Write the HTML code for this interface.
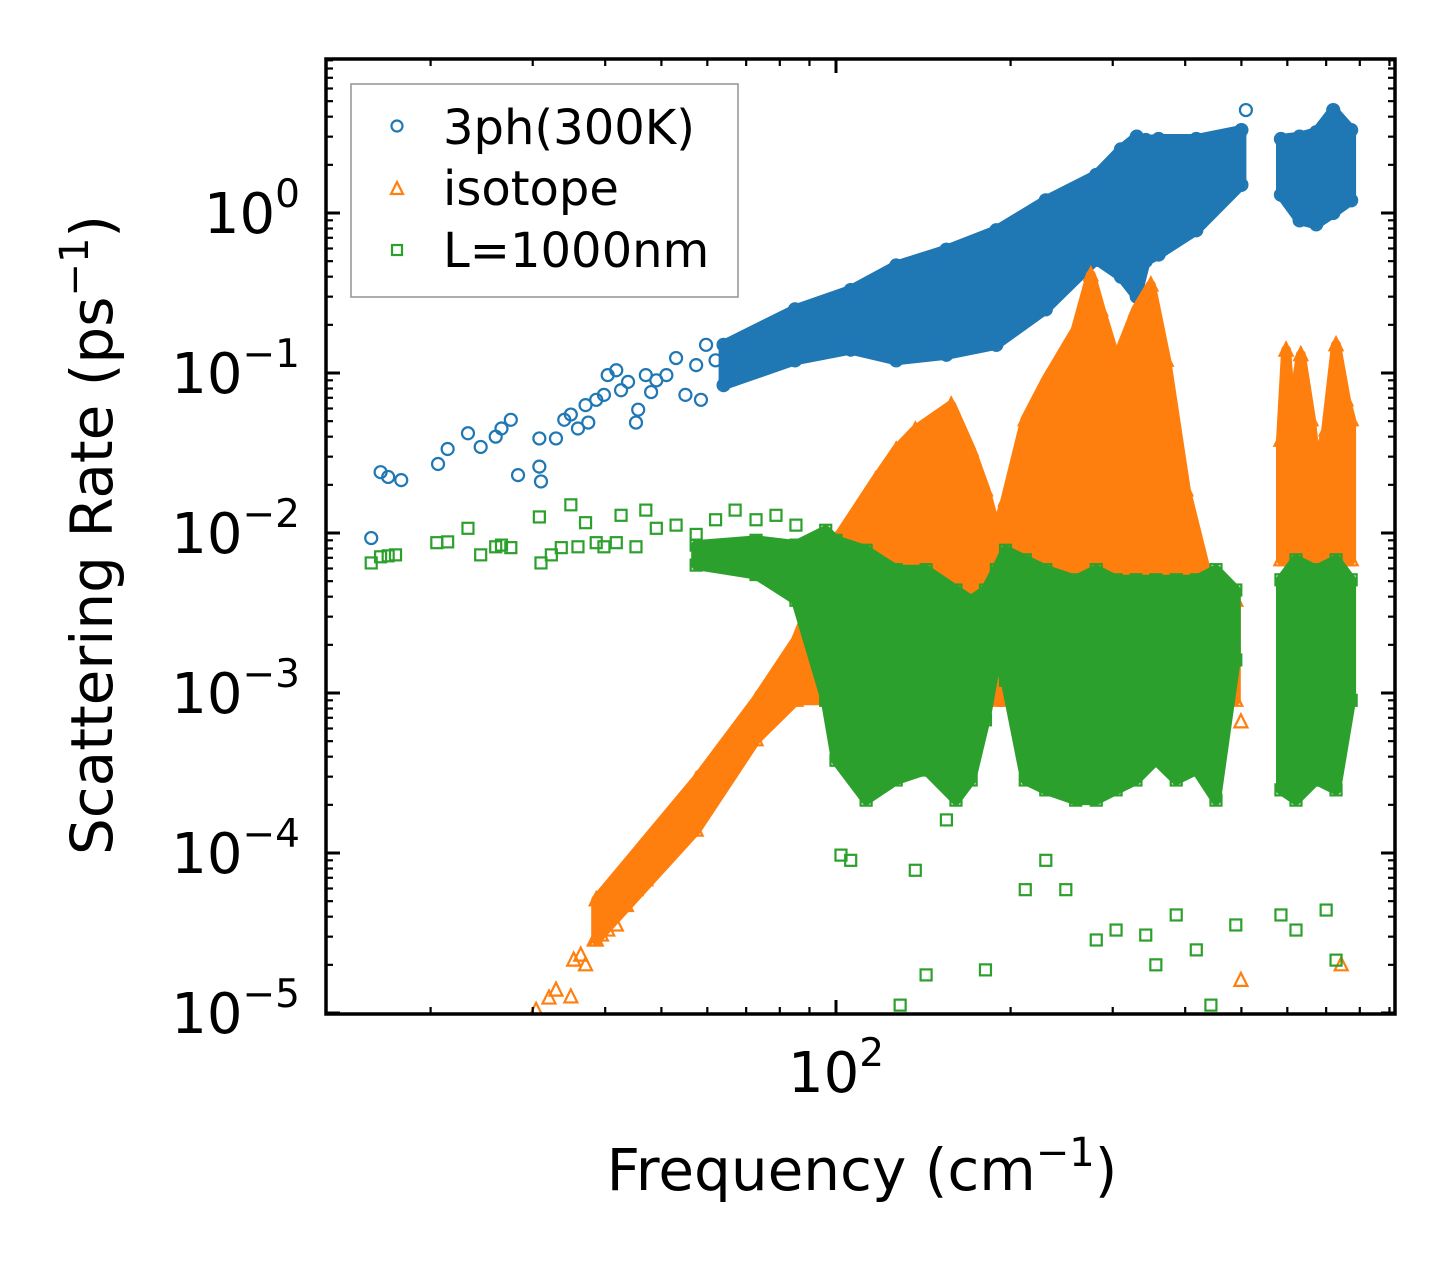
<!DOCTYPE html>
<html><head><meta charset="utf-8"><style>
html,body{margin:0;padding:0;background:#fff;}
svg{display:block;font-family:"DejaVu Sans","Liberation Sans",sans-serif;}
</style></head><body>
<svg id="chart" width="1455" height="1265" viewBox="0 0 1455 1265" xmlns="http://www.w3.org/2000/svg">
<rect width="1455" height="1265" fill="#fff"/>
<g id="marks"></g>
<g id="axes"></g>
<g id="legend">
  <rect x="351" y="84" width="387" height="213" fill="#fff" fill-opacity="0.8" stroke="#999" stroke-width="1.6"/>
  <circle cx="397" cy="126" r="5.5" fill="none" stroke="#1f77b4" stroke-width="2.2"/>
  <text x="443" y="144" font-size="48">3ph(300K)</text>
  <path d="M391,194 L403,194 L397,182 Z" fill="none" stroke="#ff7f0e" stroke-width="2.2"/>
  <text x="443" y="205" font-size="48">isotope</text>
  <rect x="392" y="245" width="10" height="10" fill="none" stroke="#2ca02c" stroke-width="2.2"/>
  <text x="443" y="267" font-size="48">L=1000nm</text>
</g>
<text x="862" y="1190" font-size="58" text-anchor="middle">Frequency (cm<tspan font-size="40" dy="-24">−1</tspan><tspan dy="24">)</tspan></text>
<text transform="translate(112,535) rotate(-90)" font-size="58" text-anchor="middle">Scattering Rate (ps<tspan font-size="40" dy="-24">−1</tspan><tspan dy="24">)</tspan></text>
</svg>
<script>
// ---- data ----
const blueF = [15.8,16.4,16.9,17.8,20.6,21.4,23.2,24.4,25.9,26.5,27.5,28.3,30.8,30.8,31,32.9,34,34.9,35.9,37,37.4,38.6,39.8,40.4,41.8,42.6,43.8,45.2,45.6,47,48,49,51,53,55,57.4,58.5,59.7,62,66,71.3,509];
const blueR = [0.0093,0.024,0.0224,0.0214,0.027,0.0335,0.042,0.0345,0.040,0.045,0.051,0.023,0.039,0.026,0.021,0.039,0.051,0.055,0.045,0.063,0.049,0.068,0.073,0.097,0.104,0.078,0.088,0.049,0.059,0.097,0.076,0.090,0.097,0.124,0.073,0.112,0.068,0.15,0.12,0.14,0.173,4.4];
const blueBandF = [64,85,106,127,155,189,230,281,310,330,342,360,418,500];
const blueBandHi = [0.15,0.25,0.33,0.47,0.59,0.78,1.2,1.73,2.5,3.0,2.86,2.9,2.9,3.3];
const blueBandLo = [0.084,0.12,0.14,0.12,0.13,0.15,0.25,0.51,0.4,0.3,0.5,0.55,0.78,1.5];
const blueBand2F = [585,630,673,720,773];
const blueBand2Hi = [2.9,3.0,3.2,4.4,3.3];
const blueBand2Lo = [1.3,0.9,0.85,1.0,1.2];

const orangeF = [30.4,32,32.9,34.9,35.3,36.3,37,38.3,39.4,40.4,41.8,43.5,45.2,47,49,52,55,499,499,743];
const orangeR = [1.04e-5,1.24e-5,1.39e-5,1.26e-5,2.14e-5,2.3e-5,2.0e-5,2.86e-5,3.07e-5,3.3e-5,3.55e-5,4.7e-5,5.9e-5,6.8e-5,8.4e-5,1.12e-4,1.39e-4,1.6e-5,6.6e-4,2.0e-5];
const orangeBandF = [38.6,57.4,72.8,85.3,100,117,127,137,158,171,181,189,196,212,230,259,275,286,304,329,349,371,401,434,489];
const orangeBandHi = [5.1e-5,2.86e-4,9.0e-4,2.14e-3,9.0e-3,0.0214,0.033,0.044,0.063,0.033,0.0186,0.0104,0.0161,0.051,0.090,0.186,0.41,0.248,0.12,0.248,0.355,0.12,0.0186,5.9e-3,3.8e-3];
const orangeBandLo = [2.86e-5,1.39e-4,5.1e-4,9.0e-4,9.0e-4,9.0e-4,9.0e-4,9.0e-4,9.0e-4,9.0e-4,9.0e-4,9.0e-4,9.0e-4,9.0e-4,9.0e-4,9.0e-4,9.0e-4,9.0e-4,9.0e-4,9.0e-4,9.0e-4,9.0e-4,9.0e-4,9.0e-4,9.0e-4];
const orangeBand2F = [585,597,610,633,659,673,700,728,757,773];
const orangeBand2Hi = [0.038,0.139,0.051,0.13,0.051,0.0248,0.044,0.15,0.068,0.051];
const orangeBand2Lo = [6.8e-3,6.8e-3,6.8e-3,6.8e-3,6.8e-3,6.8e-3,6.8e-3,6.8e-3,6.8e-3,6.8e-3];

const greenF = [15.8,16.4,16.9,17.4,20.5,21.4,23.2,24.4,25.9,26.5,27.5,30.8,31,32.3,33.6,34.9,35.9,37,38.6,39.8,41.8,42.6,45.2,47,49,53,57.4,62,67,72.8,78.8,85.3,
  102,106,129,137,143,155,181,212,230,249,281,304,342,356,386,418,443,489,585,621,700,728];
const greenR = [6.5e-3,7.1e-3,7.2e-3,7.3e-3,8.7e-3,8.8e-3,0.0107,7.3e-3,8.2e-3,8.4e-3,8.1e-3,0.0126,6.5e-3,7.3e-3,8.1e-3,0.015,8.2e-3,0.0116,8.7e-3,8.2e-3,8.7e-3,0.0129,8.2e-3,0.0139,0.0107,0.0112,0.0098,0.0121,0.0139,0.0121,0.0129,0.0112,
  9.7e-5,9.0e-5,1.12e-5,7.8e-5,1.73e-5,1.61e-4,1.86e-5,5.9e-5,9.0e-5,5.9e-5,2.86e-5,3.3e-5,3.07e-5,2.0e-5,4.1e-5,2.48e-5,1.12e-5,3.55e-5,4.1e-5,3.3e-5,4.4e-5,2.14e-5];
const greenBandF = [57.4,72.8,85.3,96,100,112.7,127,143,161,171,181,189,196,212,230,259,281,304,329,356,386,418,452,489];
const greenBandHi = [8.4e-3,9.0e-3,8.4e-3,0.0104,9.0e-3,7.8e-3,5.9e-3,5.9e-3,4.4e-3,3.8e-3,4.4e-3,5.9e-3,7.8e-3,6.8e-3,5.9e-3,5.1e-3,5.9e-3,5.1e-3,5.1e-3,5.1e-3,5.1e-3,5.1e-3,5.9e-3,4.4e-3];
const greenBandLo = [6.3e-3,5.5e-3,3.8e-3,9.0e-4,3.8e-4,2.14e-4,2.86e-4,3.3e-4,2.14e-4,2.86e-4,6.8e-4,1.61e-3,1.2e-3,2.86e-4,2.48e-4,2.14e-4,2.14e-4,2.48e-4,2.86e-4,3.8e-4,2.86e-4,3.3e-4,2.14e-4,1.61e-3];
const greenBand2F = [585,621,673,728,773];
const greenBand2Hi = [5.1e-3,6.8e-3,5.9e-3,6.8e-3,5.1e-3];
const greenBand2Lo = [2.48e-4,2.14e-4,2.86e-4,2.48e-4,9.0e-4];

const yTickExp = ['0','−1','−2','−3','−4','−5'];
const yTickVals = [1,0.1,0.01,1e-3,1e-4,1e-5];
const xTickExp = ['2'];
const xTickVals = [100];

// ---- axes ----
const L=326,R=1395,T=59,B=1014;
const X0=836, XDEC=580, Y0=213, YDEC=160;
function xs(f){return X0+(Math.log10(f)-2)*XDEC;}
function ys(r){return Y0-Math.log10(r)*YDEC;}
const NS='http://www.w3.org/2000/svg';
function mk(tag,attrs,parent){const e=document.createElementNS(NS,tag);for(const k in attrs)e.setAttribute(k,attrs[k]);parent.appendChild(e);return e;}
const marks=document.getElementById('marks');
const axes=document.getElementById('axes');

function band(F,Hi,Lo,color,name){
  let d='M'+F.map((f,i)=>xs(f).toFixed(1)+','+ys(Hi[i]).toFixed(1)).join(' L');
  for(let i=F.length-1;i>=0;i--) d+=' L'+xs(F[i]).toFixed(1)+','+ys(Lo[i]).toFixed(1);
  d+=' Z';
  const p=mk('path',{d:d,fill:color,stroke:color,'stroke-width':10,'stroke-linejoin':'round'},marks);
  
  
}
function marker(type,f,r,color,name){
  const x=xs(f),y=ys(r);let e;
  if(type==='circle') e=mk('circle',{cx:x,cy:y,r:6,fill:'none',stroke:color,'stroke-width':2.2},marks);
  else if(type==='tri') e=mk('path',{d:`M${x-6.5},${y+5.5} L${x+6.5},${y+5.5} L${x},${y-7.5} Z`,fill:'none',stroke:color,'stroke-width':2.2},marks);
  else e=mk('rect',{x:x-5.5,y:y-5.5,width:11,height:11,fill:'none',stroke:color,'stroke-width':2.2},marks);
  
  
}
function series(type,F,Rr,bands,color,prefix){
  bands.forEach((b,bi)=>{
    band(b[0],b[1],b[2],color,prefix+'-band-'+bi);
    b[0].forEach((f,i)=>{marker(type,f,b[1][i],color,prefix+'-point');marker(type,f,b[2][i],color,prefix+'-point');});
  });
  F.forEach((f,i)=>marker(type,f,Rr[i],color,prefix+'-point'));
}
const cp=mk('clipPath',{id:'clip'},document.getElementById('chart'));
mk('rect',{x:L,y:T,width:R-L,height:B-T},cp);
marks.setAttribute('clip-path','url(#clip)');
series('circle',blueF,blueR,[[blueBandF,blueBandHi,blueBandLo],[blueBand2F,blueBand2Hi,blueBand2Lo]],'#1f77b4','3ph');
series('tri',orangeF,orangeR,[[orangeBandF,orangeBandHi,orangeBandLo],[orangeBand2F,orangeBand2Hi,orangeBand2Lo]],'#ff7f0e','isotope');
series('square',greenF,greenR,[[greenBandF,greenBandHi,greenBandLo],[greenBand2F,greenBand2Hi,greenBand2Lo]],'#2ca02c','boundary');

// frame
const fr=mk('rect',{x:L,y:T,width:R-L,height:B-T,fill:'none',stroke:'#000','stroke-width':3.5},axes);


// y ticks
for(let e=-5;e<=0;e++){
  for(let m=1;m<10;m++){
    const v=m*Math.pow(10,e);const y=ys(v);
    if(y<T-1||y>B+1)continue;
    const len=m===1?14:7, w=m===1?3:2.2;
    mk('line',{x1:L,y1:y,x2:L+len,y2:y,stroke:'#000','stroke-width':w},axes);
    mk('line',{x1:R,y1:y,x2:R-len,y2:y,stroke:'#000','stroke-width':w},axes);
  }
}
for(let m=1;m<10;m++){const y=ys(m*10);if(y>=T){mk('line',{x1:L,y1:y,x2:L+7,y2:y,stroke:'#000','stroke-width':2.2},axes);mk('line',{x1:R,y1:y,x2:R-7,y2:y,stroke:'#000','stroke-width':2.2},axes);}}
yTickVals.forEach((v,i)=>{
  const t=mk('text',{x:300,y:ys(v)+20,'font-size':56,'text-anchor':'end'},axes);
  
  
  t.innerHTML='10<tspan font-size="39" dy="-26">'+yTickExp[i]+'</tspan>';
});
// x ticks
for(let e=1;e<=2;e++){
  for(let m=1;m<10;m++){
    const v=m*Math.pow(10,e);const x=xs(v);
    if(x<L-1||x>R+1)continue;
    const len=m===1?14:7, w=m===1?3:2.2;
    mk('line',{x1:x,y1:B,x2:x,y2:B-len,stroke:'#000','stroke-width':w},axes);
    mk('line',{x1:x,y1:T,x2:x,y2:T+len,stroke:'#000','stroke-width':w},axes);
  }
}
xTickVals.forEach((v,i)=>{
  const t=mk('text',{x:xs(v),y:1092,'font-size':56,'text-anchor':'middle'},axes);
  
  
  t.innerHTML='10<tspan font-size="39" dy="-26">'+xTickExp[i]+'</tspan>';
});
</script>
</body></html>
